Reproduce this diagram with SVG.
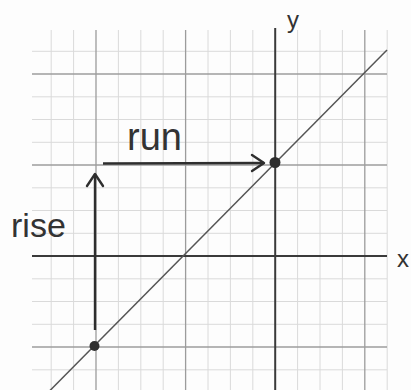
<svg xmlns="http://www.w3.org/2000/svg" width="411" height="390" viewBox="0 0 411 390">
  <style>
    .minor { stroke: #dadada; stroke-width: 1; }
    .major { stroke: #9c9c9c; stroke-width: 1.3; }
    .axis { stroke: #3a3a3a; stroke-width: 2; }
    .graph { stroke: #555; stroke-width: 1.5; }
    .conn { stroke: #2e2e2e; stroke-width: 2.4; fill: none; }
    .lbl { font-family: "Liberation Sans", "DejaVu Sans", sans-serif; fill: #333; }
  </style>
  <defs>
    <marker id="chev" viewBox="-14 -10 16 20" markerWidth="16" markerHeight="20" refX="0" refY="0" orient="auto" markerUnits="userSpaceOnUse">
      <path d="M-12,-8 L0,0 L-12,8" fill="none" stroke="#2e2e2e" stroke-width="2.4" stroke-linecap="round" stroke-linejoin="round"/>
    </marker>
  </defs>
  <rect width="411" height="390" fill="#fdfdfd"/>
  <g id="grid">
    <g class="minor">
      <line x1="51.2" y1="30" x2="51.2" y2="390"/>
      <line x1="73.6" y1="30" x2="73.6" y2="390"/>
      <line x1="118.4" y1="30" x2="118.4" y2="390"/>
      <line x1="140.8" y1="30" x2="140.8" y2="390"/>
      <line x1="163.2" y1="30" x2="163.2" y2="390"/>
      <line x1="208" y1="30" x2="208" y2="390"/>
      <line x1="230.4" y1="30" x2="230.4" y2="390"/>
      <line x1="252.8" y1="30" x2="252.8" y2="390"/>
      <line x1="297.6" y1="30" x2="297.6" y2="390"/>
      <line x1="320" y1="30" x2="320" y2="390"/>
      <line x1="342.4" y1="30" x2="342.4" y2="390"/>
      <line x1="387.2" y1="30" x2="387.2" y2="390"/>
      <line x1="32" y1="51.3" x2="387" y2="51.3"/>
      <line x1="32" y1="96.8" x2="387" y2="96.8"/>
      <line x1="32" y1="119.5" x2="387" y2="119.5"/>
      <line x1="32" y1="142.3" x2="387" y2="142.3"/>
      <line x1="32" y1="187.8" x2="387" y2="187.8"/>
      <line x1="32" y1="210.5" x2="387" y2="210.5"/>
      <line x1="32" y1="233.3" x2="387" y2="233.3"/>
      <line x1="32" y1="278.8" x2="387" y2="278.8"/>
      <line x1="32" y1="301.5" x2="387" y2="301.5"/>
      <line x1="32" y1="324.3" x2="387" y2="324.3"/>
      <line x1="32" y1="369.8" x2="387" y2="369.8"/>
    </g>
    <g class="major">
      <line x1="96" y1="30" x2="96" y2="390"/>
      <line x1="185.6" y1="30" x2="185.6" y2="390"/>
      <line x1="364.8" y1="30" x2="364.8" y2="390"/>
      <line x1="32" y1="74" x2="387" y2="74"/>
      <line x1="32" y1="165" x2="387" y2="165"/>
      <line x1="32" y1="347" x2="387" y2="347"/>
    </g>
  </g>
  <g id="axes">
    <line class="axis" x1="275.2" y1="28" x2="275.2" y2="390"/>
    <line class="axis" x1="32" y1="256" x2="387" y2="256"/>
  </g>
  <g id="graph-line">
    <line class="graph" x1="50" y1="390.5" x2="387" y2="50"/>
  </g>
  <g id="connectors">
    <line id="rise-arrow" class="conn" x1="95" y1="330" x2="95" y2="174" marker-end="url(#chev)"/>
    <line id="run-arrow" class="conn" x1="103" y1="163.5" x2="264" y2="163" marker-end="url(#chev)"/>
  </g>
  <g id="point-top">
    <circle cx="275" cy="162.5" r="5.5" fill="#2e2e2e"/>
  </g>
  <g id="point-bottom">
    <circle cx="94.5" cy="346" r="5" fill="#2e2e2e"/>
  </g>
  <g id="labels">
    <text class="lbl" x="127" y="150" font-size="38">run</text>
    <text class="lbl" x="11" y="237" font-size="34">rise</text>
    <text class="lbl" x="287" y="28" font-size="24">y</text>
    <text class="lbl" x="397" y="267" font-size="24">x</text>
  </g>
</svg>
